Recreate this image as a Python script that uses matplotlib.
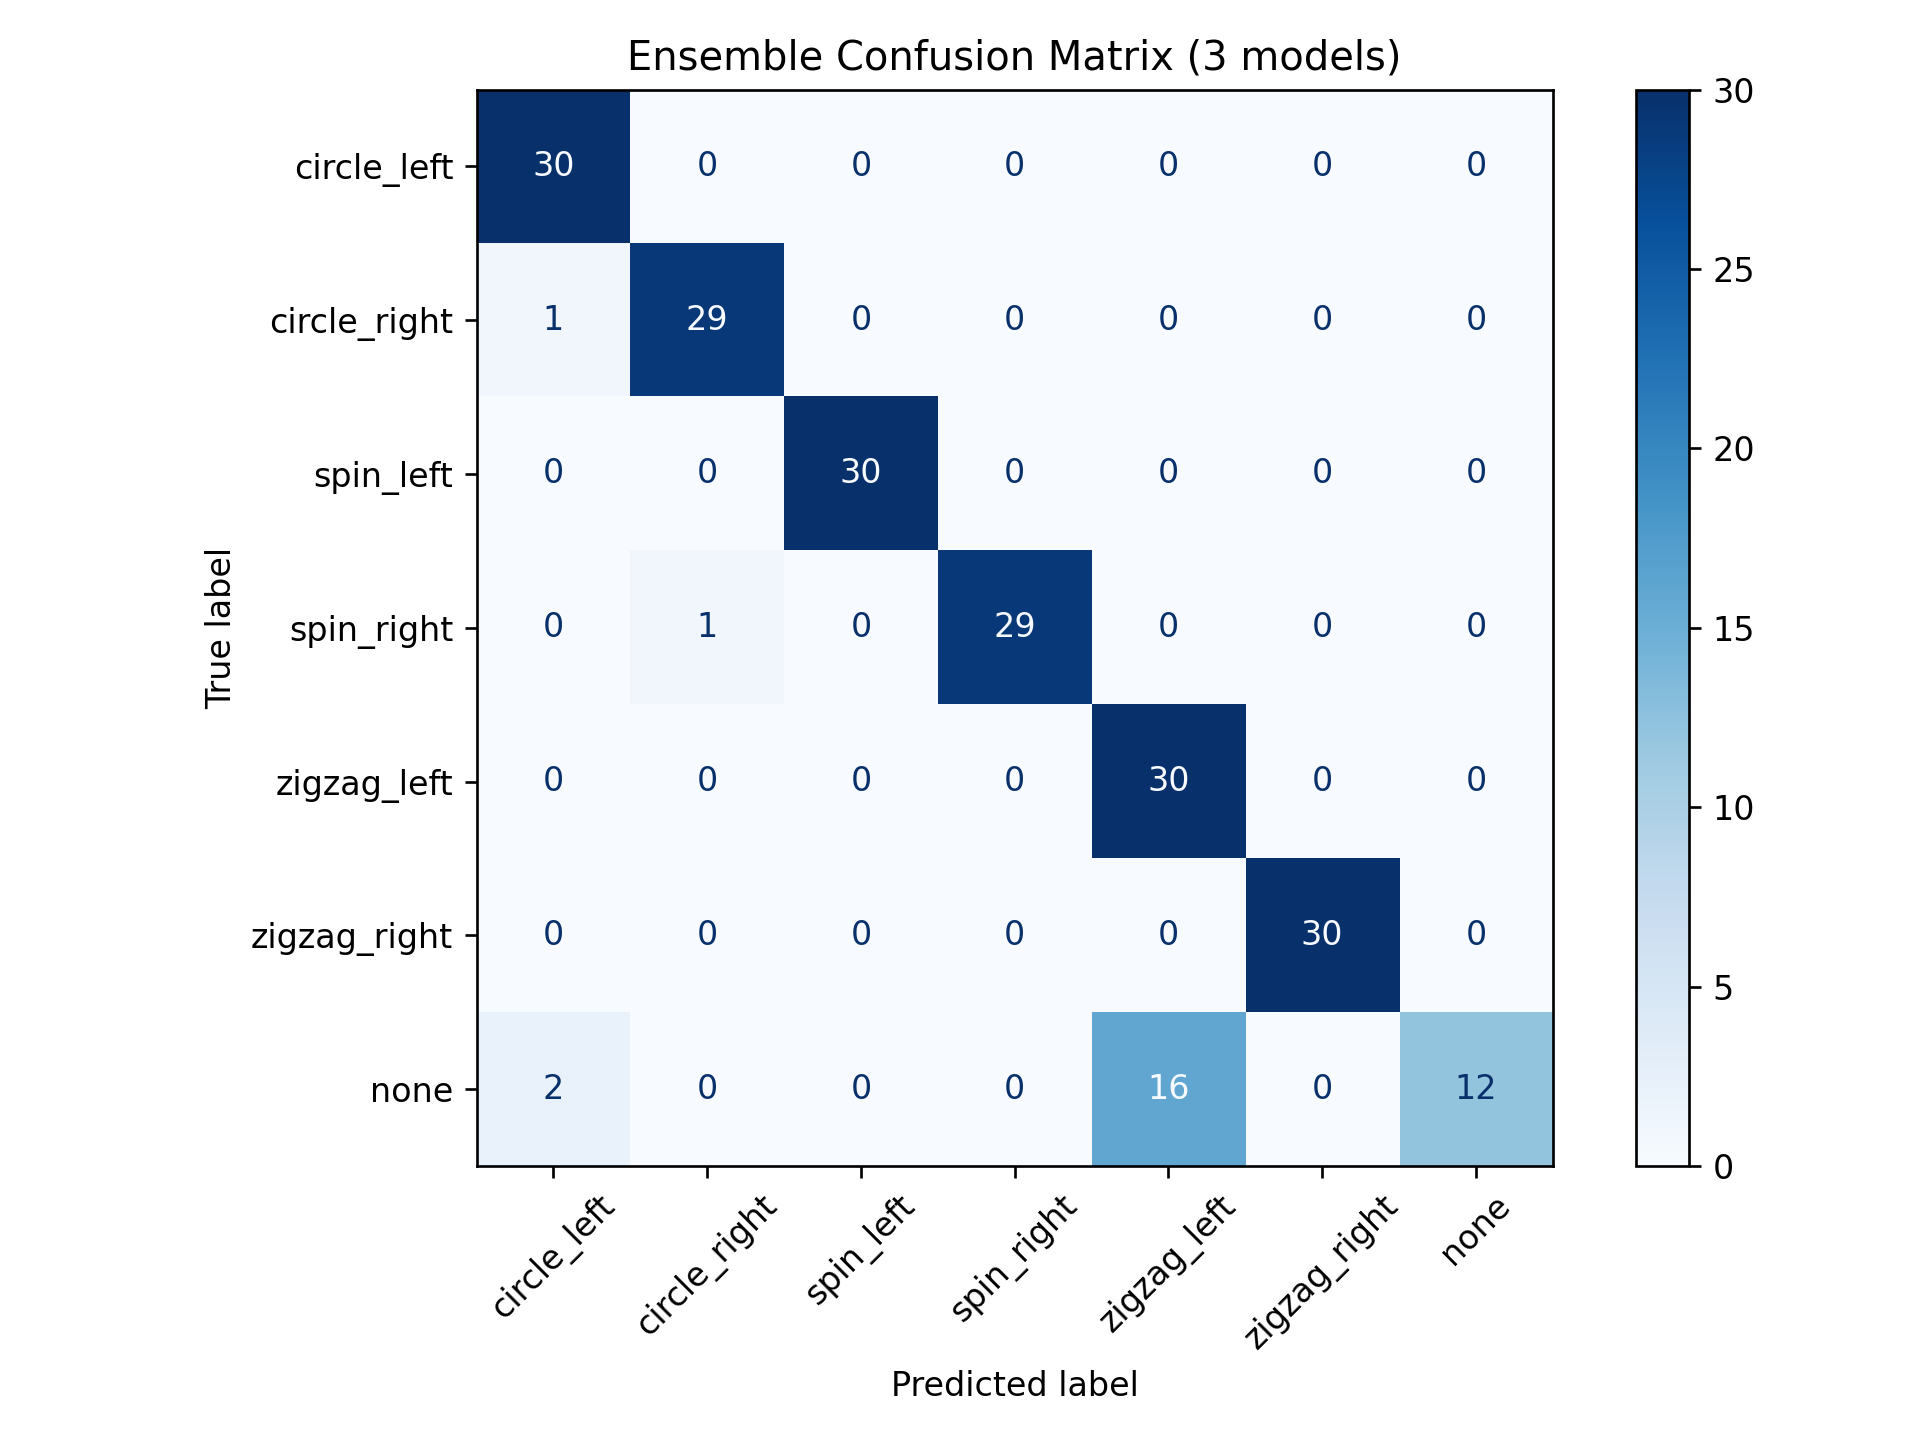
import matplotlib
matplotlib.use("Agg")
import matplotlib.pyplot as plt
import numpy as np

LABELS = ["circle_left", "circle_right", "spin_left", "spin_right",
          "zigzag_left", "zigzag_right", "none"]
MATRIX = np.array([
    [30, 0, 0, 0, 0, 0, 0],
    [1, 29, 0, 0, 0, 0, 0],
    [0, 0, 30, 0, 0, 0, 0],
    [0, 1, 0, 29, 0, 0, 0],
    [0, 0, 0, 0, 30, 0, 0],
    [0, 0, 0, 0, 0, 30, 0],
    [2, 0, 0, 0, 16, 0, 12],
])

fig, ax = plt.subplots(figsize=(8, 6))
cmap = plt.get_cmap("Blues")
im = ax.imshow(MATRIX, interpolation="nearest", cmap=cmap)
thresh = (MATRIX.max() + MATRIX.min()) / 2.0
n = len(LABELS)
for i in range(n):
    for j in range(n):
        v = MATRIX[i, j]
        color = cmap(0.0) if v >= thresh else cmap(1.0)
        ax.text(j, i, format(v, "d"), ha="center", va="center", color=color)
fig.colorbar(im, ax=ax)
ax.set(xticks=np.arange(n), yticks=np.arange(n), xticklabels=LABELS,
       yticklabels=LABELS, ylabel="True label", xlabel="Predicted label")
ax.set_ylim((n - 0.5, -0.5))
plt.setp(ax.get_xticklabels(), rotation=45)
ax.set_title("Ensemble Confusion Matrix (3 models)")
fig.tight_layout()
fig.savefig("out.png", dpi=240)
